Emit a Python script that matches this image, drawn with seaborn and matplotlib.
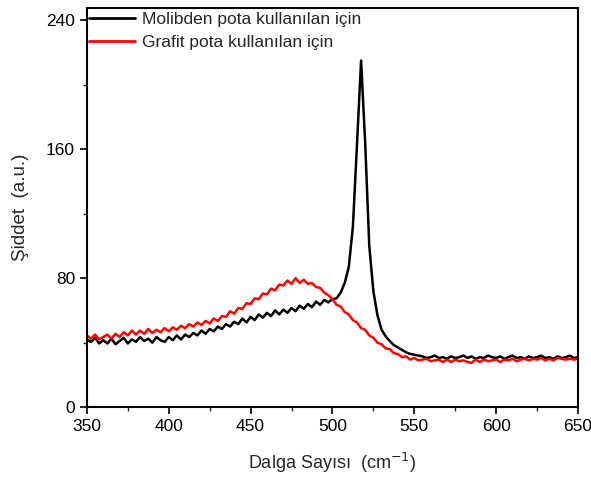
import numpy as np
import pandas as pd
import matplotlib
matplotlib.use("Agg")
import matplotlib.pyplot as plt
import seaborn as sns
from matplotlib.ticker import MultipleLocator

# ---- data ----
wavenumber = [350 + 2.5 * i for i in range(121)]

molibden = [
    42, 40.5, 43, 39.5, 41.5, 39.5, 42.5, 39, 41, 43,        # 350-372.5
    39.5, 42, 40.5, 43.5, 41, 42.5, 40, 43.5, 41.5, 40.5,    # 375-397.5
    43.5, 41.5, 44.5, 42, 45, 43.5, 46, 44.5, 47.5, 45.5,    # 400-422.5
    48.5, 47, 50, 48.5, 51.5, 50, 53, 51.5, 55, 52.5,        # 425-447.5
    56, 54, 57.5, 55.5, 58.5, 56.5, 60, 57.5, 60.5, 58.5,    # 450-472.5
    61.5, 59.5, 63, 61, 64, 62, 65.5, 63.5, 66.5, 65,        # 475-497.5
    67, 67.5, 71, 77, 87, 112, 163, 215, 164, 100,           # 500-522.5
    72, 57, 48, 44, 41, 38.5, 37, 35.5, 34, 33,              # 525-547.5
    32.5, 32, 31.5, 30.5, 31, 32, 30.5, 31, 30, 31.5,        # 550-572.5
    30.5, 31, 32, 30.5, 31.5, 30, 31, 30.5, 32, 31,          # 575-597.5
    30.5, 31.5, 30, 31, 32, 30.5, 31, 30, 31.5, 30.5,        # 600-622.5
    31, 32, 30.5, 31, 30, 31.5, 30.5, 31, 32, 30.5,          # 625-647.5
    31,                                                      # 650
]

grafit = [
    44.5, 42.5, 45, 42, 43.5, 45, 42.5, 45.5, 43.5, 46.5,    # 350-372.5
    44.5, 47.5, 45, 47.5, 45.5, 48.5, 46, 48, 46.5, 49,      # 375-397.5
    47, 49.5, 48, 50.5, 49, 51.5, 50, 52.5, 51, 53.5,        # 400-422.5
    52, 55, 53.5, 56.5, 56, 59.5, 58, 61.5, 61, 64.5,        # 425-447.5
    64, 67.5, 67, 70.5, 70, 73.5, 72.5, 76, 75.5, 78.5,      # 450-472.5
    76.5, 80, 77, 79, 76.5, 77, 74.5, 74, 71, 69.5,          # 475-497.5
    67, 63.5, 62.5, 59, 57.5, 54, 52.5, 49, 48, 44.5,        # 500-522.5
    43, 40, 39, 36.5, 36, 33.5, 33, 31, 31.5, 29.5,          # 525-547.5
    30.5, 29, 29.5, 30, 28.5, 29, 29.5, 28, 29.5, 28,        # 550-572.5
    29.5, 28.5, 29, 28, 27.5, 29.5, 28, 29.5, 28.5, 29,      # 575-597.5
    29.5, 28, 29.5, 29, 30, 28.5, 29.5, 30, 29, 30,          # 600-622.5
    29.5, 30.5, 29, 30, 29, 30.5, 30, 29.5, 30, 29.5,        # 625-647.5
    30,                                                      # 650
]

series_names = ["Molibden pota kullanılan için", "Grafit pota kullanılan için"]
series_colors = ["black", "red"]
x_ticks = [350, 400, 450, 500, 550, 600, 650]
y_ticks = [0, 80, 160, 240]

df = pd.concat([
    pd.DataFrame({"x": wavenumber, "y": molibden, "seri": series_names[0]}),
    pd.DataFrame({"x": wavenumber, "y": grafit, "seri": series_names[1]}),
], ignore_index=True)

# ---- plot ----
sns.set_style("white")
plt.rcParams["font.family"] = ["Liberation Sans", "DejaVu Sans"]

fig = plt.figure(figsize=(5.91, 4.79), dpi=100)
ax = fig.add_axes([0.147, 0.150, 0.831, 0.833])

sns.lineplot(data=df, x="x", y="y", hue="seri", hue_order=series_names,
             palette=dict(zip(series_names, series_colors)),
             linewidth=1.8, ax=ax, estimator=None, sort=False)

ax.set_xlim(350, 650)
ax.set_ylim(0, 247.5)
ax.set_xticks(x_ticks)
ax.set_yticks(y_ticks)
ax.xaxis.set_minor_locator(MultipleLocator(25))
ax.yaxis.set_minor_locator(MultipleLocator(40))
ax.tick_params(axis="both", which="major", direction="out", length=5, width=1.2,
               labelsize=12.5, bottom=True, left=True, top=False, right=False, colors="black")
ax.tick_params(axis="both", which="minor", direction="out", length=3, width=1.0,
               bottom=True, left=True, top=False, right=False)
for s in ax.spines.values():
    s.set_color("black")
    s.set_linewidth(1.5)

ax.set_xlabel("Dalga Sayısı  (cm$^{-1}$)", fontsize=13, labelpad=12)
ax.set_ylabel("Şiddet  (a.u.)", fontsize=13.5, labelpad=12)

leg = ax.legend(loc="upper left", frameon=False, fontsize=12.5, handlelength=2.65,
                borderpad=0.1, borderaxespad=0.1, handletextpad=0.4, labelspacing=0.45,
                bbox_to_anchor=(-0.002, 1.0))
for line in leg.get_lines():
    line.set_linewidth(2)

fig.savefig("out.png", dpi=100)
